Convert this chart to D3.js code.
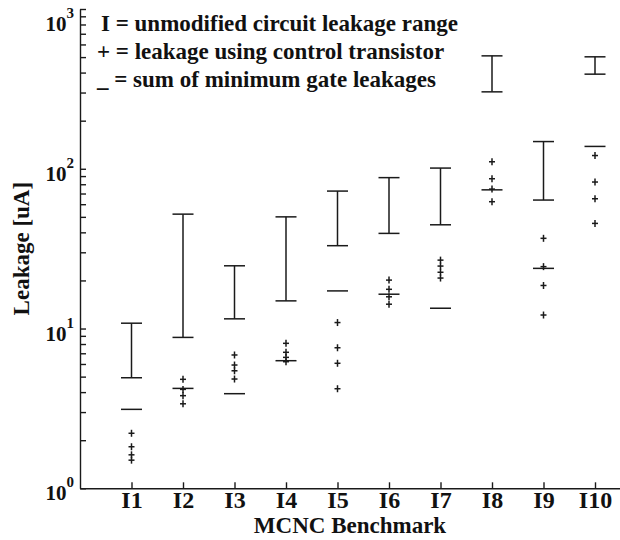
<!DOCTYPE html>
<html>
<head>
<meta charset="utf-8">
<script src="https://cdn.jsdelivr.net/npm/d3@7"></script>
<style>
  html, body { margin: 0; padding: 0; background: #fff; }
  svg { display: block; }
  text { font-family: "Liberation Serif", "Times New Roman", serif; font-weight: bold; fill: #111; }
</style>
</head>
<body>
<svg id="chart" width="620" height="540"></svg>
<script>
// ---- data ----
const benchmarks = ["I1", "I2", "I3", "I4", "I5", "I6", "I7", "I8", "I9", "I10"];
const rangeHigh  = [10.8, 52, 24.7, 50, 72.5, 88, 101, 509, 148, 502];
const rangeLow   = [4.92, 8.8, 11.5, 14.9, 33, 39.4, 44.6, 303, 63.7, 391];
const sumMinGate = [3.12, 4.22, 3.91, 6.29, 17.2, 16.4, 13.4, 73.8, 23.8, 138];
const controlTransistor = [
  [2.21, 1.82, 1.62, 1.50],
  [4.81, 4.16, 3.80, 3.38],
  [6.83, 5.91, 5.44, 4.83],
  [8.08, 7.10, 6.60, 6.20],
  [10.9, 7.58, 6.06, 4.20],
  [20.1, 17.6, 15.8, 14.2],
  [26.8, 24.6, 22.5, 20.7],
  [110.6, 86.6, 74.6, 62.2],
  [36.7, 24.4, 18.6, 12.15],
  [121, 82.6, 64.9, 45.5]
];
const yMajorTicks = [1, 10, 100, 1000];
const yMajorExps = ["0", "1", "2", "3"];
const legendLines = [
  "I = unmodified circuit leakage range",
  "+ = leakage using control transistor",
  "_ = sum of minimum gate leakages"
];

// ---- scales ----
const svg = d3.select("#chart");
const x = d3.scaleLinear().domain([0, 10.5]).range([80, 620.75]);
const y = d3.scaleLog().domain([1, 1000]).range([488.3, 9]);
const ink = "#1a1a1a";

// minor+major ticks on y
const yTicks = [];
for (let e = 0; e < 3; e++) for (let m = 1; m < 10; m++) yTicks.push(m * Math.pow(10, e));
yTicks.push(1000);

const yAxis = svg.append("g").attr("transform", `translate(${x(0)},0)`)
  .call(d3.axisLeft(y).tickValues(yTicks).tickSizeInner(-6).tickSizeOuter(0).tickFormat(""));
yAxis.selectAll("path,line").attr("stroke", ink).attr("stroke-width", 1.4);

const xAxis = svg.append("g").attr("transform", `translate(0,${y(1)})`)
  .call(d3.axisBottom(x).tickValues(d3.range(1, 11)).tickSizeInner(-6).tickSizeOuter(0)
    .tickPadding(3).tickFormat(i => benchmarks[i - 1]));
xAxis.selectAll("path,line").attr("stroke", ink).attr("stroke-width", 1.4);
xAxis.selectAll("text").attr("font-size", 24).attr("fill", ink)
  .style("font-family", '"Liberation Serif", "Times New Roman", serif').style("font-weight", "bold");

// y major labels 10^n
yMajorTicks.forEach((v, i) => {
  const ty = y(v);
  const base = Math.max(ty + 12, 31);
  const t = svg.append("text").attr("text-anchor", "end").attr("x", 74);
  t.append("tspan").attr("font-size", 21).attr("y", base).text("10");
  t.append("tspan").attr("font-size", 15).attr("dy", -13).text(yMajorExps[i]);
});

// axis titles
svg.append("text").attr("x", 350).attr("y", 533).attr("text-anchor", "middle")
  .attr("font-size", 23).text("MCNC Benchmark");
svg.append("text").attr("transform", `translate(29,${(y(1) + y(1000)) / 2}) rotate(-90)`)
  .attr("text-anchor", "middle").attr("font-size", 23).text("Leakage [uA]");

// ---- marks ----
const marks = svg.append("g").attr("stroke", ink).attr("stroke-width", 1.5).attr("fill", "none");
const capW = 10.5;
benchmarks.forEach((b, i) => {
  const cx = x(i + 1);
  // range bar
  marks.append("line").attr("x1", cx).attr("x2", cx).attr("y1", y(rangeHigh[i])).attr("y2", y(rangeLow[i]));
  marks.append("line").attr("x1", cx - capW).attr("x2", cx + capW).attr("y1", y(rangeHigh[i])).attr("y2", y(rangeHigh[i]));
  marks.append("line").attr("x1", cx - capW).attr("x2", cx + capW).attr("y1", y(rangeLow[i])).attr("y2", y(rangeLow[i]));
  // sum of min gate leakages
  marks.append("line").attr("x1", cx - capW).attr("x2", cx + capW).attr("y1", y(sumMinGate[i])).attr("y2", y(sumMinGate[i]));
  // control transistor pluses
  controlTransistor[i].forEach(v => {
    const py = y(v);
    marks.append("line").attr("x1", cx - 3).attr("x2", cx + 3).attr("y1", py).attr("y2", py);
    marks.append("line").attr("x1", cx).attr("x2", cx).attr("y1", py - 3.5).attr("y2", py + 3.5);
  });
});

// ---- legend ----
const legX = [101, 97, 97];
const legY = [31, 59, 87];
legendLines.forEach((s, i) => {
  svg.append("text").attr("x", legX[i]).attr("y", legY[i]).attr("font-size", 23).text(s);
});
</script>
</body>
</html>
